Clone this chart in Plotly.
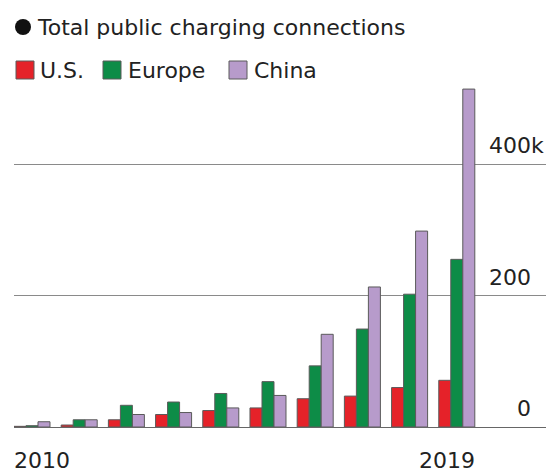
import plotly.graph_objects as go

years = [2010, 2011, 2012, 2013, 2014, 2015, 2016, 2017, 2018, 2019]
us = [1, 3, 11, 19, 25, 29, 43, 47, 60, 71]
europe = [2, 11, 33, 38, 51, 69, 93, 149, 202, 255]
china = [8, 11, 19, 22, 29, 48, 141, 213, 298, 514]
series_names = ["U.S.", "Europe", "China"]
series_colors = ["#e52229", "#0d8c47", "#b79bcb"]
y_tick_values = [0, 200, 400]
y_tick_labels = ["0", "200", "400k"]
x_labels = ["2010", "2019"]
title = "Total public charging connections"

W, H = 546, 472
TOP, BOTTOM = 85, 427          # plot area edges in pixels
FONT = "DejaVu Sans, Verdana, sans-serif"
TXT = "#222"


def px(x):
    return x / W


def py(y):
    # pixel row -> paper fraction (paper spans the plot area)
    return (BOTTOM - y) / (BOTTOM - TOP)


fig = go.Figure()
for name, vals, col in zip(series_names, [us, europe, china], series_colors):
    fig.add_trace(go.Bar(
        x=years, y=vals, name=name,
        marker=dict(color=col, line=dict(color="#5a5a5a", width=1)),
        showlegend=False,
    ))

fig.update_layout(
    width=W, height=H,
    margin=dict(l=0, r=0, t=TOP, b=H - BOTTOM),
    paper_bgcolor="white", plot_bgcolor="white",
    barmode="group", bargap=0.237, bargroupgap=0,
    xaxis=dict(domain=[14 / W, 1], range=[2009.619, 2020.89],
               showticklabels=False, showgrid=False, zeroline=False,
               showline=False, ticks=""),
    yaxis=dict(range=[0, 520.2], tickvals=y_tick_values, showticklabels=False,
               showgrid=True, gridcolor="#8a8a8a", gridwidth=1,
               zeroline=True, zerolinecolor="#666", zerolinewidth=1.2,
               showline=False, ticks=""),
    font=dict(family=FONT, color=TXT),
)

# right-side value labels sitting above their gridlines
label_x = {"0": 515, "200": 487, "400k": 487}
for v, t in zip(y_tick_values, y_tick_labels):
    fig.add_annotation(x=px(label_x[t]), xref="paper", y=v, yref="y",
                       text=t, showarrow=False, xanchor="left", yanchor="bottom",
                       yshift=4, font=dict(size=22, family=FONT, color=TXT))

# first and last year labels
year_label_x = [12, 417]
for lx, t in zip(year_label_x, x_labels):
    fig.add_annotation(x=px(lx), xref="paper", y=py(460), yref="paper", text=t,
                       showarrow=False, xanchor="left", yanchor="middle",
                       font=dict(size=22, family=FONT, color=TXT))

# title line with bullet
fig.add_shape(type="circle", xref="paper", yref="paper",
              x0=px(15), x1=px(31), y0=py(35), y1=py(19),
              fillcolor="#111", line=dict(width=0))
fig.add_annotation(x=px(35), xref="paper", y=py(27), yref="paper",
                   text=title, showarrow=False,
                   xanchor="left", yanchor="middle",
                   font=dict(size=22, family=FONT, color=TXT))

# legend row: coloured boxes with names
legend_items = [(16, 38), (103, 126), (229, 252)]
for (bx, tx), name, col in zip(legend_items, series_names, series_colors):
    fig.add_shape(type="rect", xref="paper", yref="paper",
                  x0=px(bx), x1=px(bx + 18),
                  y0=py(79), y1=py(61),
                  fillcolor=col, line=dict(color="#5a5a5a", width=1))
    fig.add_annotation(x=px(tx), xref="paper", y=py(70), yref="paper",
                       text=name, showarrow=False, xanchor="left", yanchor="middle",
                       font=dict(size=22, family=FONT, color=TXT))

fig.write_html("out.html")
